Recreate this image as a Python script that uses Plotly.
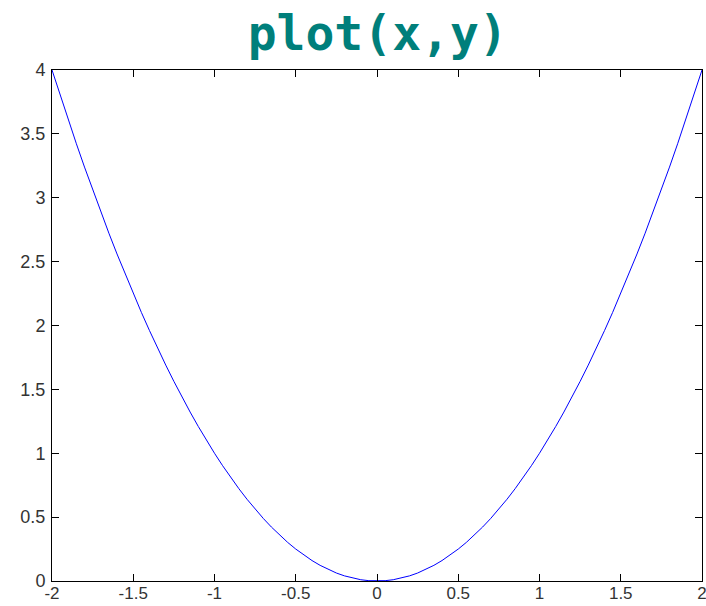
import plotly.graph_objects as go

# Sampled points of the parabola
x_vals = [-2.0, -1.95, -1.9, -1.85, -1.8, -1.75, -1.7, -1.65, -1.6, -1.55,
          -1.5, -1.45, -1.4, -1.35, -1.3, -1.25, -1.2, -1.15, -1.1, -1.05,
          -1.0, -0.95, -0.9, -0.85, -0.8, -0.75, -0.7, -0.65, -0.6, -0.55,
          -0.5, -0.45, -0.4, -0.35, -0.3, -0.25, -0.2, -0.15, -0.1, -0.05,
          0.0, 0.05, 0.1, 0.15, 0.2, 0.25, 0.3, 0.35, 0.4, 0.45,
          0.5, 0.55, 0.6, 0.65, 0.7, 0.75, 0.8, 0.85, 0.9, 0.95,
          1.0, 1.05, 1.1, 1.15, 1.2, 1.25, 1.3, 1.35, 1.4, 1.45,
          1.5, 1.55, 1.6, 1.65, 1.7, 1.75, 1.8, 1.85, 1.9, 1.95, 2.0]
y_vals = [4.0, 3.8025, 3.61, 3.4225, 3.24, 3.0625, 2.89, 2.7225, 2.56, 2.4025,
          2.25, 2.1025, 1.96, 1.8225, 1.69, 1.5625, 1.44, 1.3225, 1.21, 1.1025,
          1.0, 0.9025, 0.81, 0.7225, 0.64, 0.5625, 0.49, 0.4225, 0.36, 0.3025,
          0.25, 0.2025, 0.16, 0.1225, 0.09, 0.0625, 0.04, 0.0225, 0.01, 0.0025,
          0.0, 0.0025, 0.01, 0.0225, 0.04, 0.0625, 0.09, 0.1225, 0.16, 0.2025,
          0.25, 0.3025, 0.36, 0.4225, 0.49, 0.5625, 0.64, 0.7225, 0.81, 0.9025,
          1.0, 1.1025, 1.21, 1.3225, 1.44, 1.5625, 1.69, 1.8225, 1.96, 2.1025,
          2.25, 2.4025, 2.56, 2.7225, 2.89, 3.0625, 3.24, 3.4225, 3.61, 3.8025, 4.0]

x_ticks = [-2, -1.5, -1, -0.5, 0, 0.5, 1, 1.5, 2]
x_tick_text = ["-2", "-1.5", "-1", "-0.5", "0", "0.5", "1", "1.5", "2"]
y_ticks = [0, 0.5, 1, 1.5, 2, 2.5, 3, 3.5, 4]
y_tick_text = ["0", "0.5", "1", "1.5", "2", "2.5", "3", "3.5", "4"]

fig = go.Figure()
fig.add_trace(go.Scatter(
    x=x_vals, y=y_vals, mode="lines",
    line=dict(color="#0000ff", width=1),
    hoverinfo="skip", showlegend=False,
))

axis_common = dict(
    showgrid=False, zeroline=False,
    showline=True, linecolor="#000000", linewidth=1,
    mirror="ticks", ticks="inside", ticklen=7, tickwidth=1, tickcolor="#000000",
    layer="above traces", automargin=False, ticklabeloverflow="allow",
)
label_font = "Liberation Sans, Arial, sans-serif"

fig.update_layout(
    width=706, height=606,
    margin=dict(l=52, r=4, t=70, b=25),
    paper_bgcolor="#ffffff", plot_bgcolor="#ffffff",
    title=dict(
        text="<b>plot(x,y)</b>",
        font=dict(family="DejaVu Sans Mono, monospace", size=48, color="#007f7b"),
        x=0.535, xanchor="center", y=0.945, yanchor="middle",
    ),
    xaxis=dict(range=[-2, 2], tickvals=x_ticks, ticktext=x_tick_text,
               tickfont=dict(family=label_font, size=17, color="#333333"),
               ticklabelstandoff=-3, **axis_common),
    yaxis=dict(range=[0, 4], tickvals=y_ticks, ticktext=y_tick_text,
               tickfont=dict(family=label_font, size=18, color="#333333"),
               ticklabelstandoff=2, **axis_common),
)

fig.write_html("out.html", config={"responsive": False})
